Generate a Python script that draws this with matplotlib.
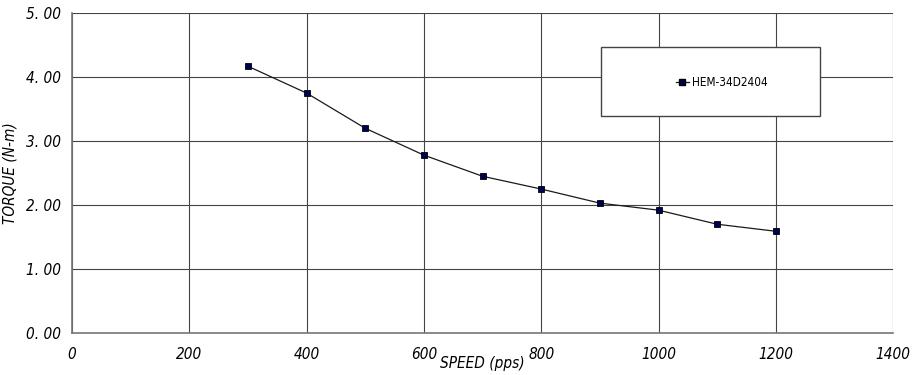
import matplotlib.pyplot as plt
from matplotlib.ticker import FuncFormatter

speed = [300, 400, 500, 600, 700, 800, 900, 1000, 1100, 1200]
torque = [4.17, 3.75, 3.20, 2.78, 2.45, 2.25, 2.03, 1.92, 1.70, 1.59]
series_name = 'HEM-34D2404'

fnt = dict(style='italic', stretch='condensed', family='DejaVu Sans')

fig = plt.figure(figsize=(9.17, 3.75), dpi=100)
ax = fig.add_axes([0.0785, 0.112, 0.8955, 0.853])

ax.plot(speed, torque, '-', color='#1a1a1a', linewidth=0.9,
        marker='s', markersize=4.5, markerfacecolor='#000050',
        markeredgecolor='#000000', markeredgewidth=0.6, label=series_name)

ax.set_xlim(0, 1400)
ax.set_ylim(0, 5)
ax.set_xticks(range(0, 1401, 200))
ax.set_yticks([0, 1, 2, 3, 4, 5])
ax.yaxis.set_major_formatter(FuncFormatter(lambda v, p: '%d. %02d' % (int(v), 0)))
ax.grid(True, color='#444444', linewidth=0.8)
ax.tick_params(length=0, pad=8, labelsize=11)
for lab in ax.get_xticklabels() + ax.get_yticklabels():
    lab.set_fontstyle('italic')
    lab.set_fontstretch('condensed')
ax.tick_params(axis='x', pad=10)

for s in ['top', 'right']:
    ax.spines[s].set_visible(False)
for s in ['left', 'bottom']:
    ax.spines[s].set_color('#777777')
    ax.spines[s].set_linewidth(1.2)

ax.set_xlabel('SPEED (pps)', fontsize=11, labelpad=-4, **fnt)
ax.set_ylabel('TORQUE (N-m)', fontsize=11, labelpad=6, **fnt)

# legend box
box = plt.Rectangle((0.644, 0.678), 0.267, 0.216, transform=ax.transAxes,
                    facecolor='white', edgecolor='#444444', linewidth=1.0, zorder=3)
ax.add_patch(box)
ax.plot([0.736, 0.751], [0.784, 0.784], transform=ax.transAxes, color='#1a1a1a',
        linewidth=0.9, zorder=4)
ax.plot([0.743], [0.784], transform=ax.transAxes, marker='s', markersize=4.5,
        markerfacecolor='#000050', markeredgecolor='#000000', zorder=5)
ax.text(0.755, 0.784, series_name, transform=ax.transAxes, fontsize=8.5,
        va='center', ha='left', zorder=5, family='DejaVu Sans', stretch='condensed')

fig.savefig('out.png', dpi=100)
